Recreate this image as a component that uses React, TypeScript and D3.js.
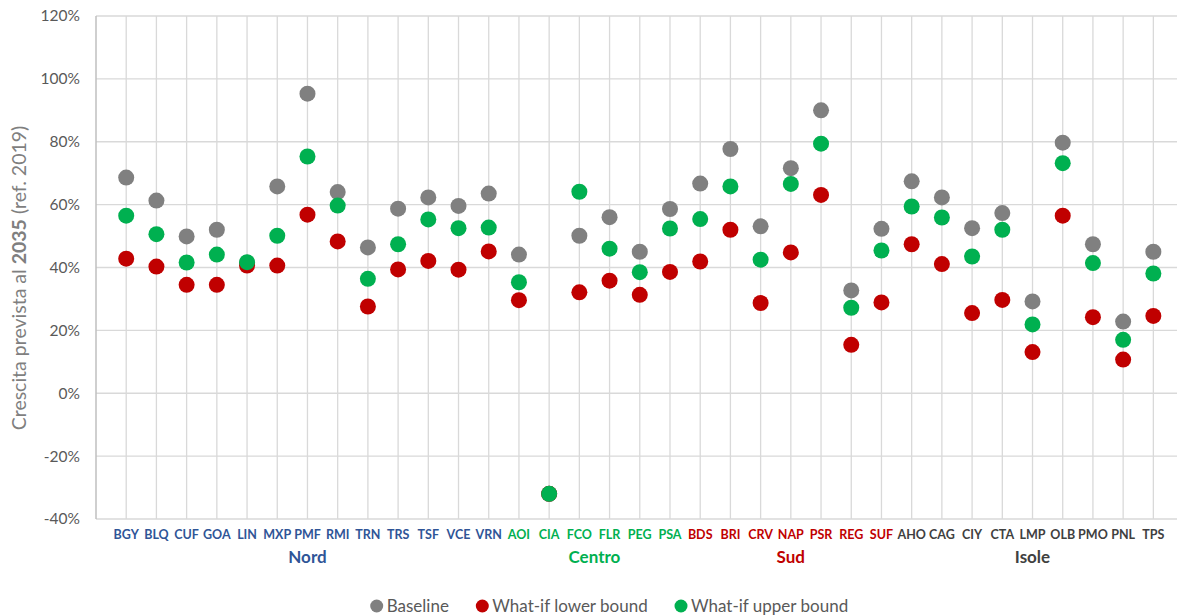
import React from "react";
import * as d3 from "d3";

const codes = ["BGY","BLQ","CUF","GOA","LIN","MXP","PMF","RMI","TRN","TRS","TSF","VCE","VRN","AOI","CIA","FCO","FLR","PEG","PSA","BDS","BRI","CRV","NAP","PSR","REG","SUF","AHO","CAG","CIY","CTA","LMP","OLB","PMO","PNL","TPS"];
const regions = ["Nord","Nord","Nord","Nord","Nord","Nord","Nord","Nord","Nord","Nord","Nord","Nord","Nord","Centro","Centro","Centro","Centro","Centro","Centro","Sud","Sud","Sud","Sud","Sud","Sud","Sud","Isole","Isole","Isole","Isole","Isole","Isole","Isole","Isole","Isole"];
const baseline = [68.6,61.3,49.9,52.0,41.5,65.8,95.3,64.0,46.4,58.7,62.3,59.6,63.5,44.1,-32.0,50.1,56.0,45.0,58.6,66.7,77.7,53.1,71.6,90.0,32.7,52.3,67.4,62.3,52.5,57.3,29.2,79.7,47.4,22.8,45.0];
const lowerBound = [42.8,40.3,34.5,34.5,40.6,40.6,56.8,48.3,27.6,39.4,42.1,39.3,45.1,29.6,-32.0,32.1,35.8,31.3,38.6,41.9,52.0,28.7,44.8,63.1,15.4,28.9,47.4,41.1,25.5,29.7,13.1,56.5,24.2,10.7,24.6];
const upperBound = [56.5,50.6,41.6,44.1,41.7,50.1,75.3,59.7,36.4,47.4,55.3,52.5,52.7,35.3,-32.0,64.1,46.0,38.5,52.4,55.4,65.8,42.5,66.6,79.4,27.2,45.4,59.4,55.9,43.5,52.0,21.9,73.2,41.4,17.0,38.1];
const yTicks = [-40,-20,0,20,40,60,80,100,120];
const regionNames = ["Nord","Centro","Sud","Isole"];
const regionColors = ["#2F5597","#00B050","#C00000","#404040"];
const seriesNames = ["Baseline","What-if lower bound","What-if upper bound"];
const seriesColors = ["#808080","#C00000","#00B050"];

const W = 1177, H = 616;
const left = 96, right = 1177, top = 16, bottom = 519;
const FONT = "Lato, 'Open Sans', sans-serif";

export default function App() {
  const x = d3.scaleLinear().domain([0, 36]).range([left, left + 36 * 30.21]);
  const y = d3.scaleLinear().domain([-40, 120]).range([bottom, top]);
  const series = [baseline, lowerBound, upperBound];
  const regColor = (r: string) => regionColors[regionNames.indexOf(r)];
  const groups = regionNames.map((r) => {
    const idx = regions.map((g, i) => (g === r ? i : -1)).filter((i) => i >= 0);
    return { name: r, center: (idx[0] + idx[idx.length - 1]) / 2 + 1 };
  });
  const legendX = [376.7, 482.3, 681];
  return (
    <svg width={W} height={H} style={{ position: "absolute", left: 0, top: 0, background: "#fff" }} fontFamily={FONT}>
      {yTicks.map((t) => (
        <line key={"h" + t} x1={left} x2={right} y1={y(t)} y2={y(t)} stroke="#d9d9d9" strokeWidth={1.3} />
      ))}
      {codes.map((c, i) => (
        <line key={"v" + c} x1={x(i + 1)} x2={x(i + 1)} y1={top} y2={bottom} stroke="#d9d9d9" strokeWidth={1.3} />
      ))}
      <line x1={left} x2={left} y1={top} y2={bottom} stroke="#bfbfbf" strokeWidth={1.5} />
      {yTicks.map((t) => (
        <text key={"t" + t} x={80} y={y(t)} dy="0.35em" textAnchor="end" fontSize={15.5} fill="#595959">{t + "%"}</text>
      ))}
      <text transform={`translate(26,${278}) rotate(-90)`} textAnchor="middle" fontSize={19.5} fill="#7f7f7f">
        Crescita prevista al <tspan fontWeight="bold">2035</tspan> (ref. 2019)
      </text>
      {series.map((s, si) =>
        s.map((v, i) => (
          <circle key={si + "-" + i} cx={x(i + 1)} cy={y(v)} r={8} fill={seriesColors[si]} />
        ))
      )}
      {codes.map((c, i) => (
        <text key={"c" + c} x={x(i + 1)} y={535} dy="0.35em" textAnchor="middle" fontSize={12.5} fontWeight="bold" fill={regColor(regions[i])}>{c}</text>
      ))}
      {groups.map((g) => (
        <text key={"g" + g.name} x={x(g.center)} y={557} dy="0.35em" textAnchor="middle" fontSize={17} fontWeight="bold" fill={regColor(g.name)}>{g.name}</text>
      ))}
      {seriesNames.map((n, i) => (
        <g key={"l" + n}>
          <circle cx={legendX[i]} cy={606} r={6.5} fill={seriesColors[i]} />
          <text x={legendX[i] + 10} y={606} dy="0.35em" fontSize={17} fill="#595959">{n}</text>
        </g>
      ))}
    </svg>
  );
}
